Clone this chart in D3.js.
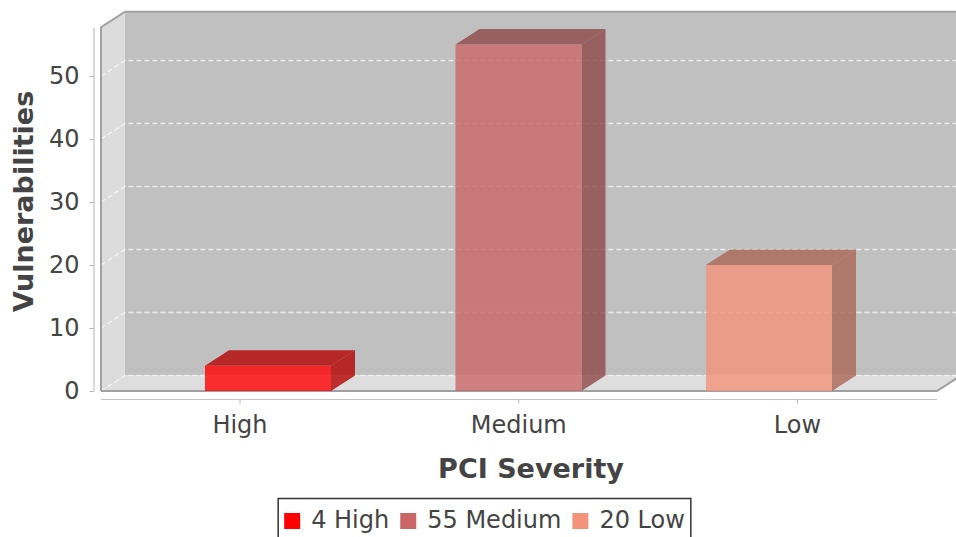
<!DOCTYPE html>
<html>
<head>
<meta charset="utf-8">
<script src="https://cdn.jsdelivr.net/npm/d3@7"></script>
<style>
  body { margin: 0; background: #ffffff; }
  svg { display: block; }
  text { font-family: "DejaVu Sans", sans-serif; }
</style>
</head>
<body>
<svg id="chart" width="956" height="537"></svg>
<script>
// Vulnerability counts by PCI severity
const categories = ["High", "Medium", "Low"];
const counts = [4, 55, 20];
const barColors = ["#ff0000", "#ca6666", "#f2937a"];
const yTicks = [0, 10, 20, 30, 40, 50];
const xTitle = "PCI Severity";
const yTitle = "Vulnerabilities";

const svg = d3.select("#chart");

// 3D plot frame: front plane plus a depth offset toward the upper right
const depthX = 24, depthY = 15.5;
const plotLeft = 101, plotRight = 937, plotBottom = 391, plotTop = 27.2;
const tickFont = 24, titleFont = 27;

const y = d3.scaleLinear().domain([0, d3.max(counts) * 1.05]).range([plotBottom, plotTop]);
const xBar = d3.scaleBand().domain(categories).range([205, 832]).paddingInner(0.497);
const xLabel = d3.scalePoint().domain(categories).range([240, 797.5]);

const pts = a => a.map(p => p.join(",")).join(" ");

// walls
svg.append("polygon")
  .attr("points", pts([[plotLeft, plotBottom], [plotLeft, plotTop], [plotLeft + depthX, plotTop - depthY], [plotLeft + depthX, plotBottom - depthY]]))
  .attr("fill", "#dcdcdc");
svg.append("rect")
  .attr("x", plotLeft + depthX).attr("y", plotTop - depthY)
  .attr("width", plotRight - plotLeft).attr("height", plotBottom - plotTop)
  .attr("fill", "#c0c0c0");
svg.append("polygon")
  .attr("points", pts([[plotLeft, plotBottom], [plotLeft + depthX, plotBottom - depthY], [plotRight + depthX, plotBottom - depthY], [plotRight, plotBottom]]))
  .attr("fill", "#dedede");

// gridlines, running across the side wall and along the back wall
svg.append("g").selectAll("path").data(yTicks).join("path")
  .attr("d", v => `M${plotLeft},${y(v)}L${plotLeft + depthX},${y(v) - depthY}L${plotRight + depthX},${y(v) - depthY}`)
  .attr("fill", "none")
  .attr("stroke", "#ffffff")
  .attr("stroke-opacity", 0.7)
  .attr("stroke-width", 1.3)
  .attr("stroke-dasharray", "5,3");

// frame outline
svg.append("path")
  .attr("d", `M${plotLeft},${plotBottom}L${plotLeft},${plotTop}L${plotLeft + depthX},${plotTop - depthY}L${plotRight + depthX + 10},${plotTop - depthY}` +
             `M${plotLeft},${plotBottom}L${plotRight},${plotBottom}L${plotRight + depthX},${plotBottom - depthY}`)
  .attr("fill", "none")
  .attr("stroke", "#a0a0a0")
  .attr("stroke-width", 2);

// 3D bars
const bars = svg.append("g").selectAll("g").data(categories.map((c, i) => ({c, v: counts[i], col: barColors[i]})))
  .join("g");
bars.each(function(d) {
  const g = d3.select(this);
  const x0 = xBar(d.c), w = xBar.bandwidth(), yt = y(d.v), yb = y(0);
  const dark = d3.color(d.col).darker(1).formatHex();
  g.append("polygon")
    .attr("points", pts([[x0 + w, yt], [x0 + w + depthX, yt - depthY], [x0 + w + depthX, yb - depthY], [x0 + w, yb]]))
    .attr("fill", dark).attr("fill-opacity", 0.8);
  g.append("polygon")
    .attr("points", pts([[x0, yt], [x0 + depthX, yt - depthY], [x0 + w + depthX, yt - depthY], [x0 + w, yt]]))
    .attr("fill", dark).attr("fill-opacity", 0.8);
  g.append("rect")
    .attr("x", x0).attr("y", yt).attr("width", w).attr("height", yb - yt)
    .attr("fill", d.col).attr("fill-opacity", 0.8);
});

// value axis
const yAxis = svg.append("g")
  .attr("transform", "translate(93.5,0)")
  .call(d3.axisLeft(y).tickValues(yTicks).tickSize(4).tickSizeOuter(0).tickPadding(10));
yAxis.select(".domain").attr("stroke", "#b4b4b4");
yAxis.selectAll(".tick line").attr("stroke", "#b4b4b4");
yAxis.selectAll("text").attr("font-size", tickFont).attr("fill", "#444").attr("font-family", "DejaVu Sans");

// category axis
const xAxis = svg.append("g").attr("transform", "translate(0,399.5)");
xAxis.append("line").attr("x1", plotLeft).attr("x2", plotRight).attr("stroke", "#c4c4c4");
xAxis.selectAll(".tk").data(categories).join("line")
  .attr("class", "tk")
  .attr("x1", d => xLabel(d)).attr("x2", d => xLabel(d))
  .attr("y1", 0).attr("y2", 4).attr("stroke", "#b4b4b4");
xAxis.selectAll("text").data(categories).join("text")
  .attr("x", d => xLabel(d)).attr("y", 33.5)
  .attr("text-anchor", "middle").attr("font-size", tickFont).attr("fill", "#444")
  .text(d => d);

// axis titles
svg.append("text")
  .attr("x", (plotLeft + plotRight + depthX) / 2).attr("y", 478)
  .attr("text-anchor", "middle").attr("font-size", titleFont).attr("font-weight", "bold").attr("fill", "#444")
  .text(xTitle);
svg.append("text")
  .attr("transform", `translate(33,${(plotTop - depthY + plotBottom) / 2}) rotate(-90)`)
  .attr("text-anchor", "middle").attr("font-size", titleFont).attr("font-weight", "bold").attr("fill", "#444")
  .text(yTitle);

// legend
const legend = svg.append("g");
const box = legend.append("rect");
const items = legend.selectAll("g").data(categories.map((c, i) => ({label: `${counts[i]} ${c}`, col: barColors[i]})))
  .join("g");
items.append("rect").attr("width", 16).attr("height", 16).attr("y", 513).attr("fill", d => d.col);
items.append("text").attr("y", 528).attr("font-size", tickFont).attr("fill", "#444").text(d => d.label);
let cur = 0;
const layout = [];
items.each(function() {
  const tw = d3.select(this).select("text").node().getComputedTextLength();
  layout.push(cur);
  cur += 27 + tw + 11;
});
const total = cur - 11;
const startX = 484.5 - total / 2;
items.each(function(d, i) {
  const g = d3.select(this);
  g.select("rect").attr("x", startX + layout[i]);
  g.select("text").attr("x", startX + layout[i] + 27);
});
box.attr("x", startX - 6).attr("y", 498.5).attr("width", total + 12).attr("height", 60)
  .attr("fill", "#fff").attr("stroke", "#333").attr("stroke-width", 1.5);
</script>
</body>
</html>
